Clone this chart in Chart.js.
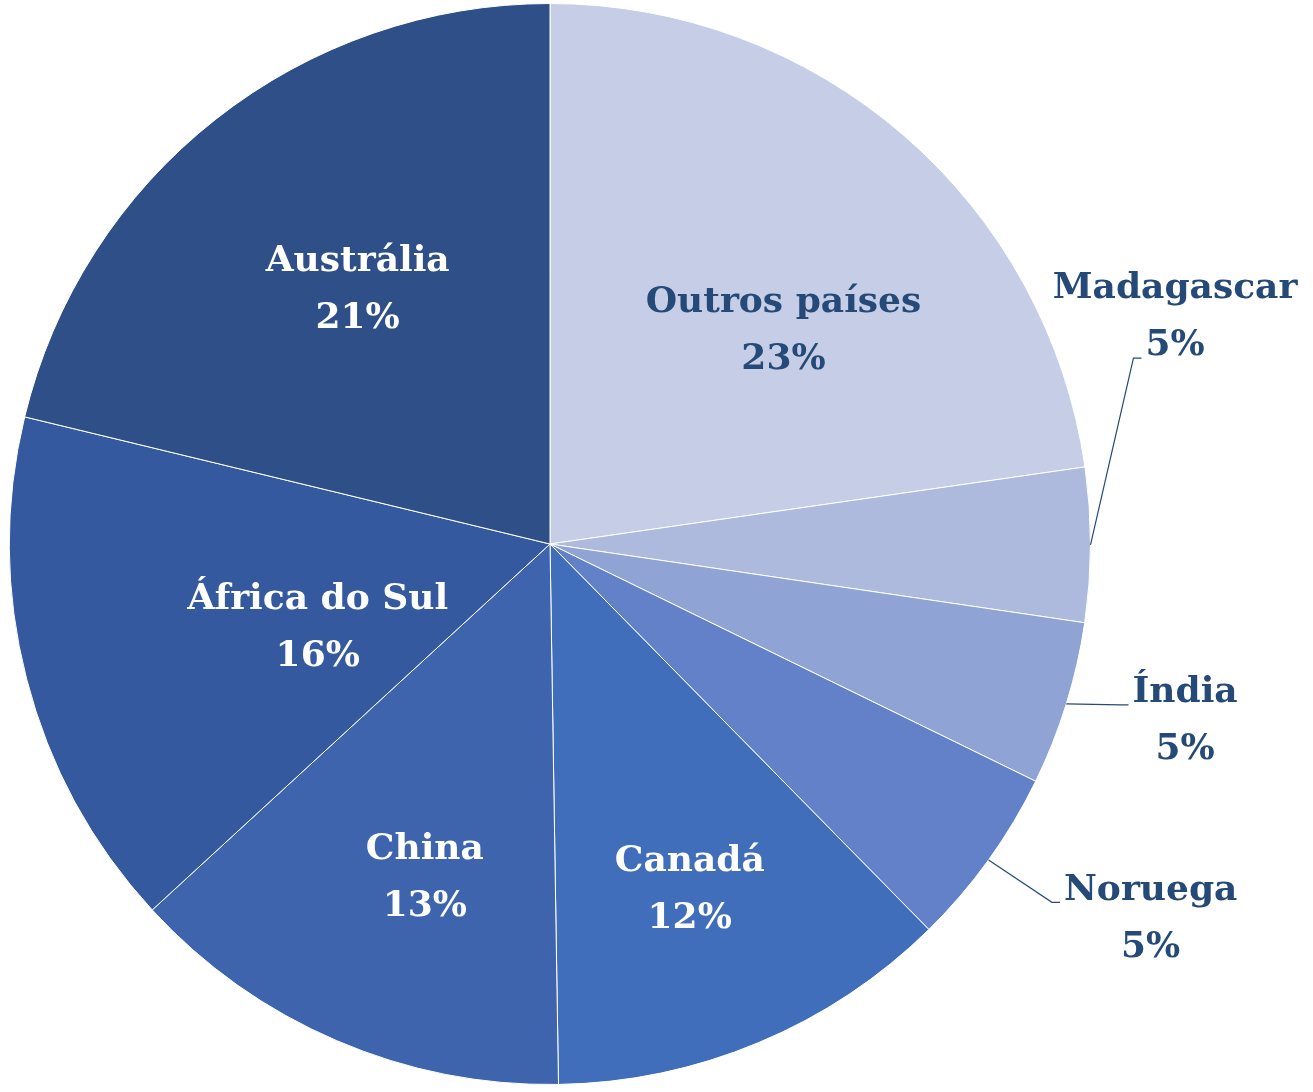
<!DOCTYPE html>
<html>
<head>
<meta charset="utf-8">
<script src="https://cdn.jsdelivr.net/npm/chart.js@4.4.1/dist/chart.umd.min.js"></script>
<style>
  html, body { margin: 0; padding: 0; background: #fff; }
  #wrap { width: 1313px; height: 1092px; }
</style>
</head>
<body>
<div id="wrap"><canvas id="pie" width="1313" height="1092"></canvas></div>
<script>
// ---- data (clockwise from 12 o'clock) ----
const countries = ['Outros países', 'Madagascar', 'Índia', 'Noruega', 'Canadá', 'China', 'África do Sul', 'Austrália'];
const shares    = [22.7, 4.6, 4.9, 5.4, 12.1, 13.4, 15.6, 21.2];
const colors    = ['#C5CEE6', '#ADBADD', '#8FA3D4', '#6381C8', '#416EBB', '#3D64AD', '#34599F', '#2E4F87'];

// label placement: [angle shift in degrees, radius factor, outside?]
const labelSpots = [
  [6.7, 0.585, false],
  [-20, 1.23, true],
  [-1.6, 1.22, true],
  [-3.8, 1.31, true],
  [0.7, 0.69, false],
  [-2.7, 0.66, false],
  [-5.4, 0.457, false],
  [1.1, 0.59, false],
];
const darkText = '#264A78';
const FONT = 'bold 36px "DejaVu Serif", serif';
const LINE_GAP = 57;

const labelPlugin = {
  id: 'sliceLabels',
  afterDatasetsDraw(chart) {
    const ctx = chart.ctx;
    const meta = chart.getDatasetMeta(0);
    const total = shares.reduce((s, v) => s + v, 0);
    ctx.save();
    ctx.font = FONT;
    ctx.textAlign = 'center';
    ctx.textBaseline = 'middle';

    meta.data.forEach((arc, i) => {
      const { x, y, startAngle, endAngle, outerRadius } = arc.getProps(['x', 'y', 'startAngle', 'endAngle', 'outerRadius'], true);
      const mid = (startAngle + endAngle) / 2;
      const [shift, rf, outside] = labelSpots[i];
      const a = mid + shift * Math.PI / 180;
      const cx = x + Math.cos(a) * outerRadius * rf;
      const cy = y + Math.sin(a) * outerRadius * rf;
      const pct = Math.round(shares[i] / total * 100) + '%';
      const lines = [countries[i], pct];
      const y0 = cy - LINE_GAP / 2;

      if (outside) {
        // leader line from slice edge to label
        const sx = x + Math.cos(mid) * outerRadius;
        const sy = y + Math.sin(mid) * outerRadius;
        const hookLine = i === 1 ? 1 : 0;
        const w = ctx.measureText(lines[hookLine]).width;
        const ex = cx - w / 2 - 4;
        const ey = y0 + hookLine * LINE_GAP + (i === 1 ? 12 : 12);
        ctx.strokeStyle = darkText;
        ctx.lineWidth = 1.2;
        ctx.beginPath();
        ctx.moveTo(sx, sy);
        ctx.lineTo(ex - 8, ey);
        ctx.lineTo(ex, ey);
        ctx.stroke();
      }

      ctx.fillStyle = (outside || i === 0) ? darkText : '#ffffff';
      lines.forEach((t, k) => ctx.fillText(t, cx, y0 + k * LINE_GAP));
    });
    ctx.restore();
  }
};

new Chart(document.getElementById('pie'), {
  type: 'pie',
  data: {
    labels: countries,
    datasets: [{
      data: shares,
      backgroundColor: colors,
      borderColor: '#ffffff',
      borderWidth: 1,
    }],
  },
  options: {
    responsive: false,
    animation: false,
    layout: { padding: { left: 9, right: 222, top: 3, bottom: 7 } },
    plugins: {
      legend: { display: false },
      tooltip: { enabled: false },
    },
  },
  plugins: [labelPlugin],
});
</script>
</body>
</html>
